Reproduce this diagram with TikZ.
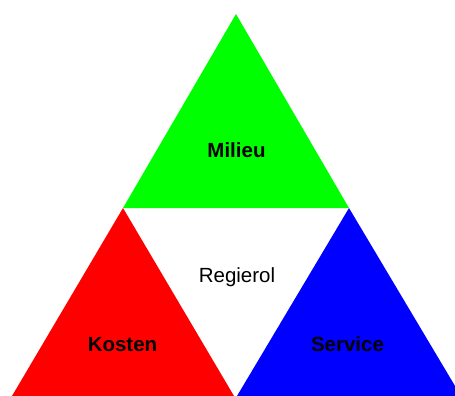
\documentclass[tikz,border=0pt]{standalone}
\usepackage{fontspec}
\setmainfont{Liberation Sans}
\usepackage{tikz}

\definecolor{milieugreen}{RGB}{0,255,0}
\definecolor{kostenred}{RGB}{255,0,0}
\definecolor{serviceblue}{RGB}{0,0,255}

\tikzset{
    corner/.style={fill=#1},
    label bold/.style={anchor=base, font=\fontsize{20.5}{24}\selectfont\bfseries},
    label plain/.style={anchor=base, font=\fontsize{20.5}{24}\selectfont}
}

\begin{document}
\begin{tikzpicture}[x=1pt, y=-1pt]
            \useasboundingbox (0,0) rectangle (455,396);
            \clip (0,0) rectangle (455,396);
            \coordinate (top) at (236,14);
            \coordinate (gl) at (123,208);
            \coordinate (gr) at (349,208);
            \coordinate (rl) at (12,396);
            \coordinate (rr) at (234,396);
            \coordinate (bl) at (237,396);
            \coordinate (br) at (461,396);
            \fill[corner=milieugreen] (top) -- (gr) -- (gl) -- cycle;
            \fill[corner=kostenred] (gl) -- (rr) -- (rl) -- cycle;
            \fill[corner=serviceblue] (gr) -- (br) -- (bl) -- cycle;
            \node[label bold] (milieu) at (236.5,157) {Milieu};
            \node[label plain] (regierol) at (237,282) {Regierol};
            \node[label bold] (kosten) at (122.5,351) {Kosten};
            \node[label bold] (service) at (347.5,351) {Service};
        \end{tikzpicture}
\end{document}
